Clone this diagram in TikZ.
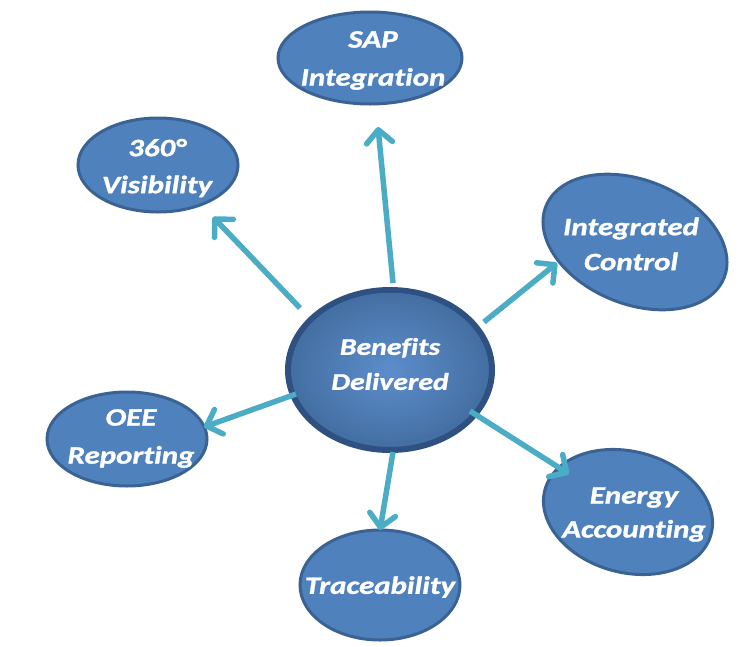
\documentclass[tikz,border=0pt]{standalone}
\usepackage{fontspec}
\setmainfont[FakeStretch=1.24,Ligatures=NoCommon,BoldItalicFeatures={FakeBold=1.2}]{Carlito}
\usetikzlibrary{shapes.geometric,arrows.meta}
\definecolor{nfill}{HTML}{4F81BD}
\definecolor{nborder}{HTML}{3A6394}
\definecolor{arr}{HTML}{4BACC6}
\definecolor{cin}{HTML}{5C8DCB}
\definecolor{cout}{HTML}{2E5182}
\tikzset{
  bub/.style={ellipse, fill=nfill, draw=nborder, line width=3pt, inner sep=0pt},
  lbl/.style={text=white, align=center, inner sep=0pt,
    font=\fontsize{25}{#1}\selectfont\bfseries\itshape},
  conn/.style={arr, line width=5.5pt, -{Straight Barb[length=13pt,width=26pt,round]}},
}
\begin{document}
\begin{tikzpicture}[x=1pt,y=-1pt]
\useasboundingbox (0,0) rectangle (745,646);
% outer nodes
\node[bub, minimum width=184pt, minimum height=92pt] (sap) at (370,58) {};
\node[lbl=38] (sapt) at (373,60.5) {SAP\\Integration};
\node[bub, minimum width=160pt, minimum height=94pt] (vis) at (158,165) {};
\node[lbl=37] (vist) at (157,168) {360°\\Visibility};
\node[bub, minimum width=192pt, minimum height=124pt, rotate=-22] (ic) at (635,242) {};
\node[lbl=35] (ict) at (631,244) {Integrated\\Control};
\node[bub, minimum width=172pt, minimum height=121pt, rotate=-15] (ea) at (628,512) {};
\node[lbl=34] (eat) at (634,514.5) {Energy\\Accounting};
\node[bub, minimum width=160pt, minimum height=94pt] (oee) at (127,439) {};
\node[lbl=38] (oeet) at (131,438.5) {OEE\\Reporting};
\node[bub, minimum width=160pt, minimum height=110pt] (tr) at (380,585) {};
\node[lbl=30] (trt) at (380,587) {Traceability};
% center
\node[ellipse, minimum width=204pt, minimum height=160pt, draw=cout, line width=6pt,
  inner color=cin, outer color=nfill!85!black] (c) at (390,370) {};
\node[ellipse, minimum width=193pt, minimum height=149pt, draw=nborder!60!nfill, line width=1.5pt] (cring) at (390,368) {};
\node[text=white, align=center, inner sep=0pt, font=\fontsize{24}{35}\selectfont\bfseries\itshape] (ct) at (390,364) {Benefits\\Delivered};
% connector ends
\coordinate (s1) at (393,283);
\coordinate (s2) at (300,308);
\coordinate (s3) at (484,322);
\coordinate (s4) at (296,394);
\coordinate (s5) at (470,411);
\coordinate (s6) at (393,452);
\coordinate (e1) at (378,127);
\coordinate (e2) at (213,217);
\coordinate (e3) at (557,263);
\coordinate (e4) at (204,427);
\coordinate (e5) at (569,474);
\coordinate (e6) at (380,530);
\draw[conn] (s1) -- (e1);
\draw[conn] (s2) -- (e2);
\draw[conn] (s3) -- (e3);
\draw[conn] (s4) -- (e4);
\draw[conn] (s5) -- (e5);
\draw[conn] (s6) -- (e6);
\end{tikzpicture}
\end{document}
